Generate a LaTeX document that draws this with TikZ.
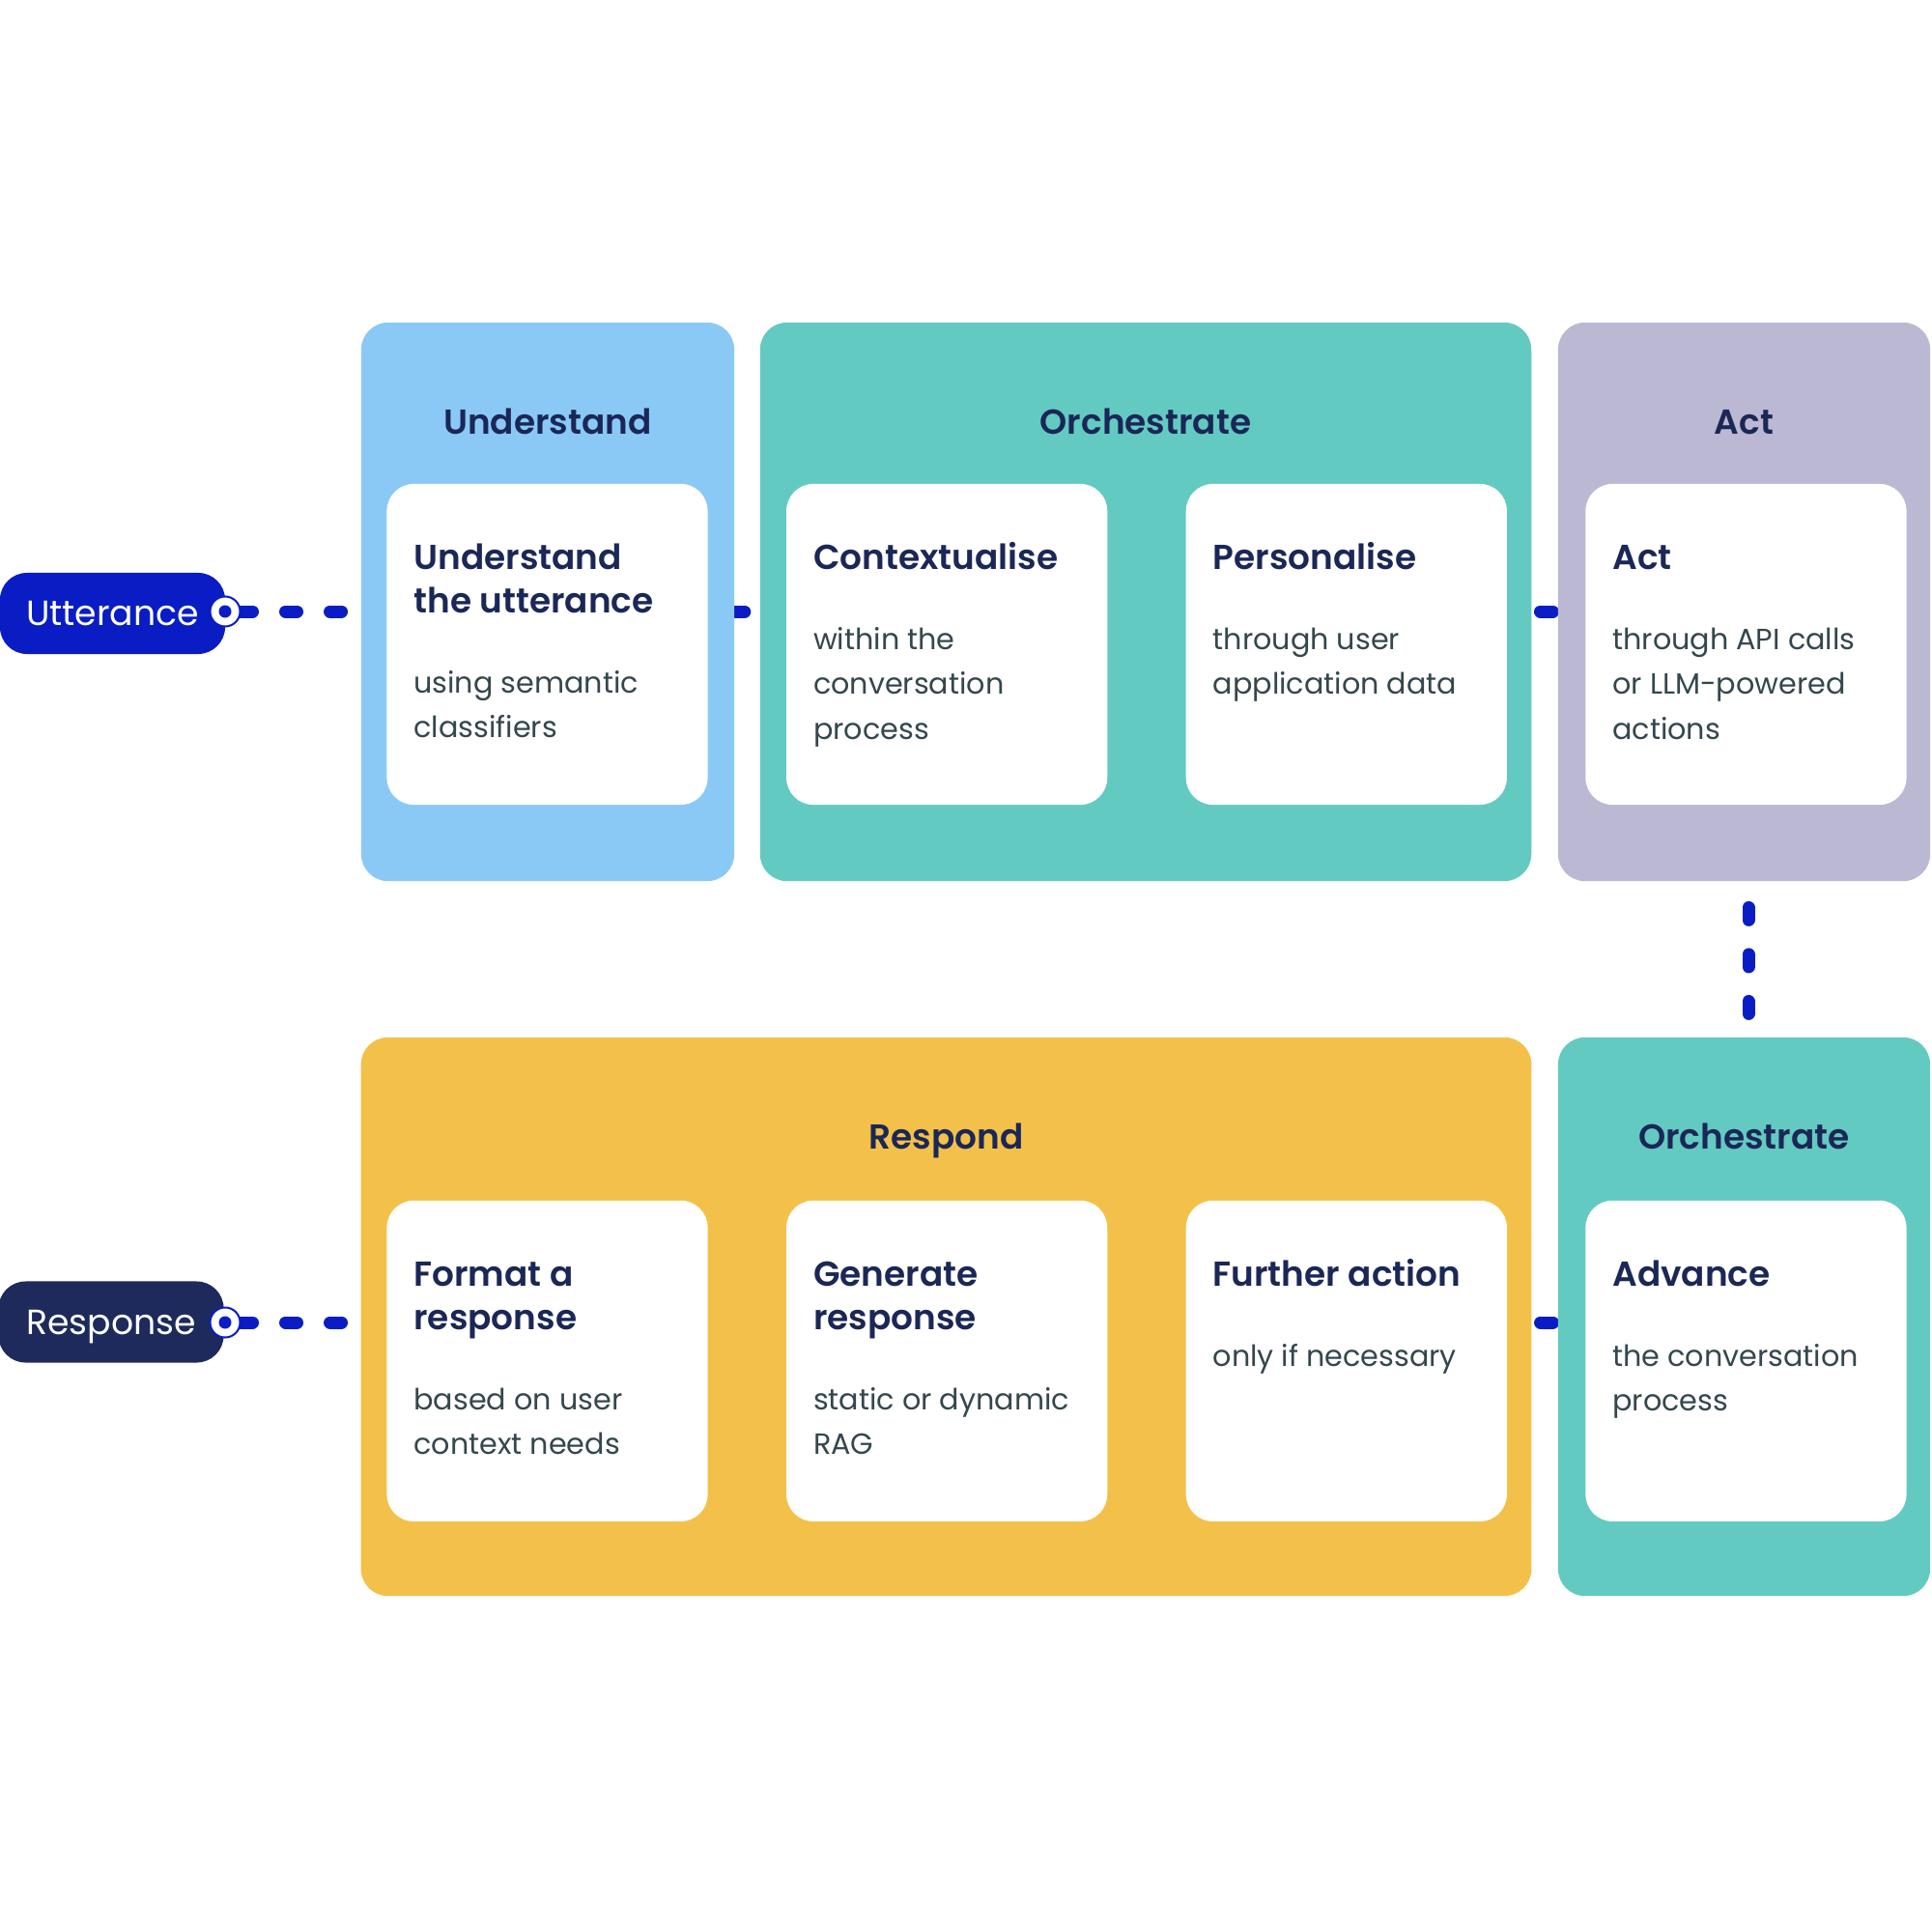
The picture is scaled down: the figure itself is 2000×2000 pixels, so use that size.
\documentclass[tikz,border=0pt]{standalone}
\usepackage{fontspec}
\setmainfont{Poppins}
\newfontfamily\headfont{Poppins SemiBold}
\usetikzlibrary{positioning,backgrounds}

\definecolor{panelblue}{HTML}{8AC9F6}
\definecolor{panelteal}{HTML}{63CAC2}
\definecolor{panellilac}{HTML}{BAB8D3}
\definecolor{panelyellow}{HTML}{F3C14A}
\definecolor{inknavy}{HTML}{1B2756}
\definecolor{inkslate}{HTML}{34474D}
\definecolor{linkblue}{HTML}{0A1DC4}
\definecolor{pillnavy}{HTML}{1D2A5B}

\begin{document}
\begin{tikzpicture}[x=0.01cm,y=-0.01cm,
  panel/.style={rounded corners=0.28cm,minimum width=3.86cm,
    minimum height=5.78cm,inner sep=0pt},
  card/.style={fill=white,rounded corners=0.28cm,minimum width=3.32cm,
    minimum height=3.32cm,inner sep=0pt},
  head/.style={font=\headfont\fontsize{10.2}{13}\selectfont,text=inknavy,
    anchor=base,inner sep=0pt},
  ctitle/.style={font=\headfont\fontsize{10.2}{12.8}\selectfont,text=inknavy,
    anchor=base west,align=left,inner sep=0pt},
  cbody/.style={font=\fontsize{8.6}{13.2}\selectfont,text=inkslate,
    anchor=base west,align=left,inner sep=0pt},
  pill/.style={rounded corners=0.28cm,minimum width=2.33cm,minimum height=0.84cm,
    text=white,text depth=0pt,font=\fontsize{10.3}{12}\selectfont},
  ring/.style={circle,fill=white,draw=linkblue,line width=0.02cm,
    minimum size=0.31cm,inner sep=0pt},
  link/.style={linkblue,line width=0.13cm,line cap=round}]
\useasboundingbox (0,0) rectangle (2000,2000);

% top row
\node[panel,fill=panelblue] (und) at (567,623) {};
\node[panel,fill=panelteal,minimum width=7.98cm] (orch) at (1186,623) {};
\node[panel,fill=panellilac,minimum width=3.85cm] (act) at (1805.5,623) {};
\node[head] at ([shift={(0,116)}]und.north) {Understand};
\node[head] at ([shift={(0,116)}]orch.north) {Orchestrate};
\node[head] at ([shift={(0,116)}]act.north) {Act};

\node[card] (cu) at (566.5,667) {};
\node[card,right=0.8cm of cu] (cc) {};
\node[card,right=0.8cm of cc] (cp) {};
\node[card,right=0.8cm of cp] (ca) {};

% multi-line nodes sit on their last line
\node[ctitle] at ([shift={(28,134)}]cu.north west) {Understand\\the utterance};
\node[cbody] at ([shift={(28,263.5)}]cu.north west) {using semantic\\classifiers};
\node[ctitle] at ([shift={(28,89)}]cc.north west) {Contextualise};
\node[cbody] at ([shift={(28,265)}]cc.north west) {within the\\conversation\\process};
\node[ctitle] at ([shift={(28,89)}]cp.north west) {Personalise};
\node[cbody] at ([shift={(28,218.5)}]cp.north west) {through user\\application data};
\node[ctitle] at ([shift={(28,89)}]ca.north west) {Act};
\node[cbody] at ([shift={(28,265)}]ca.north west) {through API calls\\or LLM-powered\\actions};

% bottom row
\node[panel,fill=panelyellow,minimum width=12.11cm] (resp) at (979.5,1363) {};
\node[panel,fill=panelteal,minimum width=3.85cm] (orch2) at (1805.5,1363) {};
\node[head] at ([shift={(0,116)}]resp.north) {Respond};
\node[head] at ([shift={(0,116)}]orch2.north) {Orchestrate};

\node[card,below=4.08cm of cu] (cf) {};
\node[card,right=0.8cm of cf] (cg) {};
\node[card,right=0.8cm of cg] (cx) {};
\node[card,right=0.8cm of cx] (cv) {};

\node[ctitle] at ([shift={(28,134)}]cf.north west) {Format a\\response};
\node[cbody] at ([shift={(28,263.5)}]cf.north west) {based on user\\context needs};
\node[ctitle] at ([shift={(28,134)}]cg.north west) {Generate\\response};
\node[cbody] at ([shift={(28,263.5)}]cg.north west) {static or dynamic\\RAG};
\node[ctitle] at ([shift={(28,89)}]cx.north west) {Further action};
\node[cbody] at ([shift={(28,172)}]cx.north west) {only if necessary};
\node[ctitle] at ([shift={(28,89)}]cv.north west) {Advance};
\node[cbody] at ([shift={(28,218.5)}]cv.north west) {the conversation\\process};

% input and output
\node[pill,fill=linkblue] (utt) at (116.5,635) {Utterance};
\node[pill,fill=pillnavy] (res) at (115,1368.5) {Response};
\node[ring] (uring) at (233,633) {};
\node[ring] (rring) at (233,1369) {};
\fill[linkblue] (uring.center) circle (0.065cm);
\fill[linkblue] (rring.center) circle (0.065cm);

\begin{pgfonlayer}{background}
\draw[link,dash pattern=on 0.12cm off 0.34cm] (uring.east) -- (und.west |- uring);
\draw[link,dash pattern=on 0.1cm off 1cm] (und.east |- uring) -- (orch.west |- uring);
\draw[link,dash pattern=on 0.13cm off 0.3cm,dash phase=0.345cm]
  (orch.east |- uring) -- (act.west |- uring);
\draw[link,dash pattern=on 0.13cm off 0.355cm,dash phase=0.22cm]
  ([xshift=0.045cm]act.south) -- ([xshift=0.045cm]act.south |- orch2.north);
\draw[link,dash pattern=on 0.12cm off 0.34cm] (rring.east) -- (resp.west |- rring);
\draw[link,dash pattern=on 0.13cm off 0.3cm,dash phase=0.345cm]
  (resp.east |- rring) -- (orch2.west |- rring);
\end{pgfonlayer}
\end{tikzpicture}
\end{document}
